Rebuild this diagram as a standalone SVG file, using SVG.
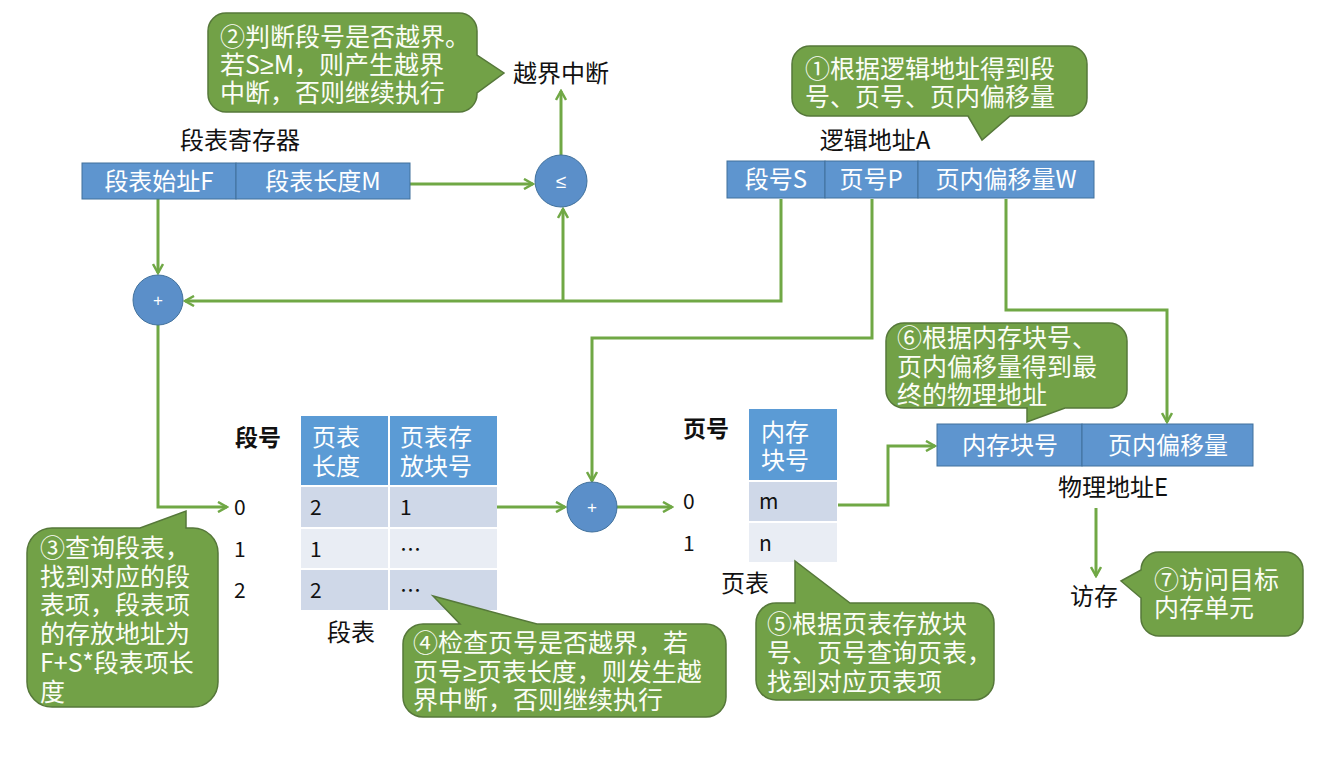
<svg xmlns="http://www.w3.org/2000/svg" width="1341" height="757" viewBox="0 0 1341 757">
<style>
text{font-family:"Noto Sans CJK SC","Liberation Sans",sans-serif;}
.w{fill:#fbfdf6;font-size:25px;}
.wt{fill:#fff;font-size:24px;}
.b{fill:#111;font-size:24px;}
.bb{fill:#111;font-size:23px;font-weight:bold;}
.n{fill:#111;font-size:21px;}
.ls{font-family:"Liberation Sans",sans-serif;}
.box{fill:#5e95cf;stroke:#41719c;stroke-width:1;}
.hd{fill:#5b9bd5;}
.rd{fill:#cfd8e8;}
.rl{fill:#e9edf4;}
.circ{fill:#5b8fc9;stroke:#41719c;stroke-width:1;}
.co{fill:#72a147;stroke:#56783a;stroke-width:1.5;}
.con path{fill:none;stroke:#70a845;stroke-width:3;marker-end:url(#ah);}
</style>
<defs>
<marker id="ah" viewBox="0 0 12 12" refX="10" refY="6" markerWidth="12" markerHeight="12" markerUnits="userSpaceOnUse" orient="auto">
<path d="M1,1 L10,6 L1,11" fill="none" stroke="#70a845" stroke-width="2.5"/>
</marker>
</defs>
<rect width="1341" height="757" fill="#fff"/>

<g class="con" id="connectors">
<path d="M410,184 H533"/>
<path d="M561,155 V91"/>
<path d="M158,199 V273"/>
<path d="M781,199 V301 H185"/>
<path d="M563,301 V209"/>
<path d="M872,199 V338 H592 V481"/>
<path d="M1006,199 V310 H1167 V422"/>
<path d="M158,325 V507 H227"/>
<path d="M497,507 H565"/>
<path d="M617,507 H672"/>
<path d="M838,505 H888 V446 H935"/>
<path d="M1096,508 V576"/>
</g>

<g id="seg-register">
<text class="b" x="240" y="149" text-anchor="middle">段表寄存器</text>
<rect class="box" x="82" y="163" width="154" height="36"/>
<rect class="box" x="236" y="163" width="174" height="36"/>
<text class="wt" x="159" y="190" text-anchor="middle">段表始址F</text>
<text class="wt" x="323" y="190" text-anchor="middle">段表长度M</text>
</g>

<g id="cmp">
<circle class="circ" cx="561" cy="181" r="26"/>
<text class="ls" x="561" y="188" fill="#fff" font-size="19" text-anchor="middle">≤</text>
</g>

<g id="interrupt"><text class="b" x="561" y="82" text-anchor="middle">越界中断</text></g>

<g id="add1">
<circle class="circ" cx="158" cy="300" r="25"/>
<text class="ls" x="158" y="306" fill="#fff" font-size="17" text-anchor="middle">+</text>
</g>

<g id="logical-addr">
<text class="b" x="875" y="149" text-anchor="middle">逻辑地址A</text>
<rect class="box" x="727" y="161" width="98" height="37"/>
<rect class="box" x="825" y="161" width="93" height="37"/>
<rect class="box" x="918" y="161" width="176" height="37"/>
<text class="wt" x="776" y="188" text-anchor="middle">段号S</text>
<text class="wt" x="871" y="188" text-anchor="middle">页号P</text>
<text class="wt" x="1006" y="188" text-anchor="middle">页内偏移量W</text>
</g>

<g id="seg-table">
<text class="bb" x="235" y="446">段号</text>
<rect class="hd" x="301" y="416" width="87" height="69"/>
<rect class="hd" x="390" y="416" width="107" height="69"/>
<text class="wt" x="312" y="446">页表</text>
<text class="wt" x="312" y="475">长度</text>
<text class="wt" x="400" y="446">页表存</text>
<text class="wt" x="400" y="475">放块号</text>
<rect class="rd" x="301" y="487" width="87" height="40"/>
<rect class="rd" x="390" y="487" width="107" height="40"/>
<rect class="rl" x="301" y="529" width="87" height="39"/>
<rect class="rl" x="390" y="529" width="107" height="39"/>
<rect class="rd" x="301" y="570" width="87" height="40"/>
<rect class="rd" x="390" y="570" width="107" height="40"/>
<text class="n" x="310" y="515">2</text>
<text class="n" x="400" y="515">1</text>
<text class="n" x="310" y="557">1</text>
<text class="n" x="400" y="557">…</text>
<text class="n" x="310" y="598">2</text>
<text class="n" x="400" y="598">…</text>
<text class="n" x="234" y="515">0</text>
<text class="n" x="234" y="557">1</text>
<text class="n" x="234" y="598">2</text>
<text class="b" x="351" y="641" text-anchor="middle">段表</text>
</g>

<g id="add2">
<circle class="circ" cx="592" cy="507" r="25"/>
<text class="ls" x="592" y="513" fill="#fff" font-size="17" text-anchor="middle">+</text>
</g>

<g id="page-table">
<text class="bb" x="683" y="437">页号</text>
<rect class="hd" x="749" y="409" width="88" height="71"/>
<text class="wt" x="761" y="441">内存</text>
<text class="wt" x="761" y="469">块号</text>
<rect class="rd" x="749" y="482" width="88" height="39"/>
<rect class="rl" x="749" y="523" width="88" height="39"/>
<text class="n" x="759" y="509">m</text>
<text class="n" x="759" y="551">n</text>
<text class="n" x="683" y="509">0</text>
<text class="n" x="683" y="551">1</text>
<text class="b" x="745" y="592" text-anchor="middle">页表</text>
</g>

<g id="physical-addr">
<rect class="box" x="937" y="424" width="145" height="42"/>
<rect class="box" x="1082" y="424" width="171" height="42"/>
<text class="wt" x="1010" y="454" text-anchor="middle">内存块号</text>
<text class="wt" x="1168" y="454" text-anchor="middle">页内偏移量</text>
<text class="b" x="1113" y="496" text-anchor="middle">物理地址E</text>
</g>

<g id="access"><text class="b" x="1094" y="605" text-anchor="middle">访存</text></g>

<g id="callout2">
<path class="co" d="M226,13 H459 A18,18 0 0 1 477,31 V55 L504,73 L477,93 V94 A18,18 0 0 1 459,112 H226 A18,18 0 0 1 208,94 V31 A18,18 0 0 1 226,13 Z"/>
<text class="w" x="220" y="46">②判断段号是否越界。</text>
<text class="w" x="220" y="74">若S<tspan class="ls">≥</tspan>M，则产生越界</text>
<text class="w" x="220" y="102">中断，否则继续执行</text>
</g>

<g id="callout1">
<path class="co" d="M810,46 H1069 A18,18 0 0 1 1087,64 V98 A18,18 0 0 1 1069,116 H1010 L982,140 L968,116 H810 A18,18 0 0 1 792,98 V64 A18,18 0 0 1 810,46 Z"/>
<text class="w" x="805" y="78">①根据逻辑地址得到段</text>
<text class="w" x="805" y="106">号、页号、页内偏移量</text>
</g>

<g id="callout6">
<path class="co" d="M904,323 H1109 A18,18 0 0 1 1127,341 V390 A18,18 0 0 1 1109,408 H1065 L1027,422 V408 H904 A18,18 0 0 1 886,390 V341 A18,18 0 0 1 904,323 Z"/>
<text class="w" x="897" y="347">⑥根据内存块号、</text>
<text class="w" x="897" y="376">页内偏移量得到最</text>
<text class="w" x="897" y="404">终的物理地址</text>
</g>

<g id="callout3">
<path class="co" d="M52,528 H140 L186,511 V528 H193 A25,25 0 0 1 218,553 V682 A25,25 0 0 1 193,707 H52 A25,25 0 0 1 27,682 V553 A25,25 0 0 1 52,528 Z"/>
<text class="w" x="40" y="557">③查询段表，</text>
<text class="w" x="40" y="586">找到对应的段</text>
<text class="w" x="40" y="614">表项，段表项</text>
<text class="w" x="40" y="643">的存放地址为</text>
<text class="w" x="40" y="672">F+S*段表项长</text>
<text class="w" x="40" y="701">度</text>
</g>

<g id="callout4">
<path class="co" d="M423,624 H460 L433,596 L537,624 H706 A20,20 0 0 1 726,644 V697 A20,20 0 0 1 706,717 H423 A20,20 0 0 1 403,697 V644 A20,20 0 0 1 423,624 Z"/>
<text class="w" x="413" y="652">④检查页号是否越界，若</text>
<text class="w" x="413" y="681">页号<tspan class="ls">≥</tspan>页表长度，则发生越</text>
<text class="w" x="413" y="709">界中断，否则继续执行</text>
</g>

<g id="callout5">
<path class="co" d="M776,603 H795 V561 L850,603 H974 A20,20 0 0 1 994,623 V680 A20,20 0 0 1 974,700 H776 A20,20 0 0 1 756,680 V623 A20,20 0 0 1 776,603 Z"/>
<text class="w" x="767" y="633">⑤根据页表存放块</text>
<text class="w" x="767" y="662">号、页号查询页表，</text>
<text class="w" x="767" y="691">找到对应页表项</text>
</g>

<g id="callout7">
<path class="co" d="M1159,552 H1285 A18,18 0 0 1 1303,570 V618 A18,18 0 0 1 1285,636 H1159 A18,18 0 0 1 1141,618 V598 L1121,581 L1141,570 A18,18 0 0 1 1159,552 Z"/>
<text class="w" x="1154" y="589">⑦访问目标</text>
<text class="w" x="1154" y="617">内存单元</text>
</g>
</svg>
